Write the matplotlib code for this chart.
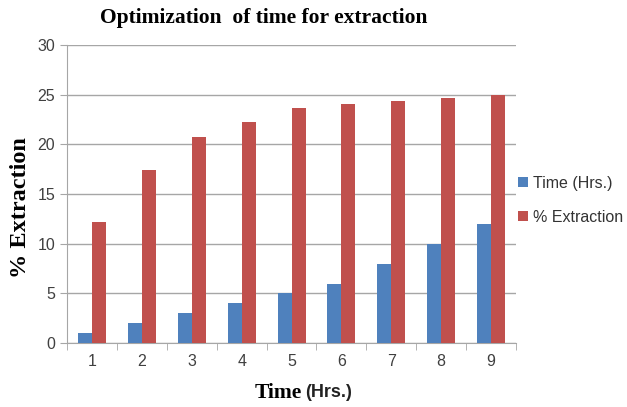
"""
Optimization of time for extraction - grouped bar chart
"""

import numpy as np
import matplotlib.pyplot as plt

# Data
categories = [1, 2, 3, 4, 5, 6, 7, 8, 9]
time_hrs = [1, 2, 3, 4, 5, 6, 8, 10, 12]
extraction = [12.2, 17.4, 20.8, 22.3, 23.7, 24.1, 24.4, 24.7, 25.0]
yticks = [0, 5, 10, 15, 20, 25, 30]

blue = '#4F81BD'
red = '#C0504D'
grid_col = '#A6A6A6'
serif = ['Liberation Serif', 'DejaVu Serif']
sans = ['Liberation Sans', 'DejaVu Sans']

fig = plt.figure(figsize=(6.27, 4.07), dpi=100)
ax = fig.add_axes([0.107, 0.157, 0.716, 0.732])

x = np.array(categories)
w = 0.28
ax.bar(x - w / 2, time_hrs, width=w, color=blue, label='Time (Hrs.)', zorder=3)
ax.bar(x + w / 2, extraction, width=w, color=red, label='% Extraction', zorder=3)

ax.set_xlim(0.5, 9.5)
ax.set_ylim(0, 30)
ax.set_yticks(yticks)
ax.set_xticks(x)
ax.set_xticks(np.arange(0.5, 10, 1), minor=True)
ax.tick_params(axis='x', which='major', length=0, pad=8, labelsize=11.5, labelcolor='#404040')
ax.tick_params(axis='x', which='minor', length=5, color=grid_col, direction='out')
ax.tick_params(axis='y', length=5, color=grid_col, labelsize=11.5, labelcolor='#404040')
for lab in ax.get_xticklabels() + ax.get_yticklabels():
    lab.set_family(sans)

ax.grid(axis='y', color=grid_col, linewidth=1, zorder=0)
for s in ['top', 'right']:
    ax.spines[s].set_visible(False)
for s in ['left', 'bottom']:
    ax.spines[s].set_color(grid_col)

# Title and axis labels
fig.text(0.421, 0.955, 'Optimization  of time for extraction', ha='center', va='center',
         fontsize=15.5, fontweight='bold', family=serif)
fig.text(0.032, 0.49, '% Extraction', rotation=90, ha='center', va='center',
         fontsize=17.5, fontweight='bold', family=serif)
fig.text(0.481, 0.035, 'Time', ha='right', va='center',
         fontsize=15.5, fontweight='bold', family=serif)
fig.text(0.487, 0.035, '(Hrs.)', ha='left', va='center',
         fontsize=13, fontweight='bold', family=sans, color='#222222')

# Legend
ax.legend(loc='center left', bbox_to_anchor=(1.005, 0.48), frameon=False,
          prop={'family': sans, 'size': 11.5}, handlelength=0.6, handleheight=0.6,
          handletextpad=0.3, labelspacing=1.2, labelcolor='#333333',
          borderaxespad=0, borderpad=0)

plt.savefig('out.png', dpi=100)
